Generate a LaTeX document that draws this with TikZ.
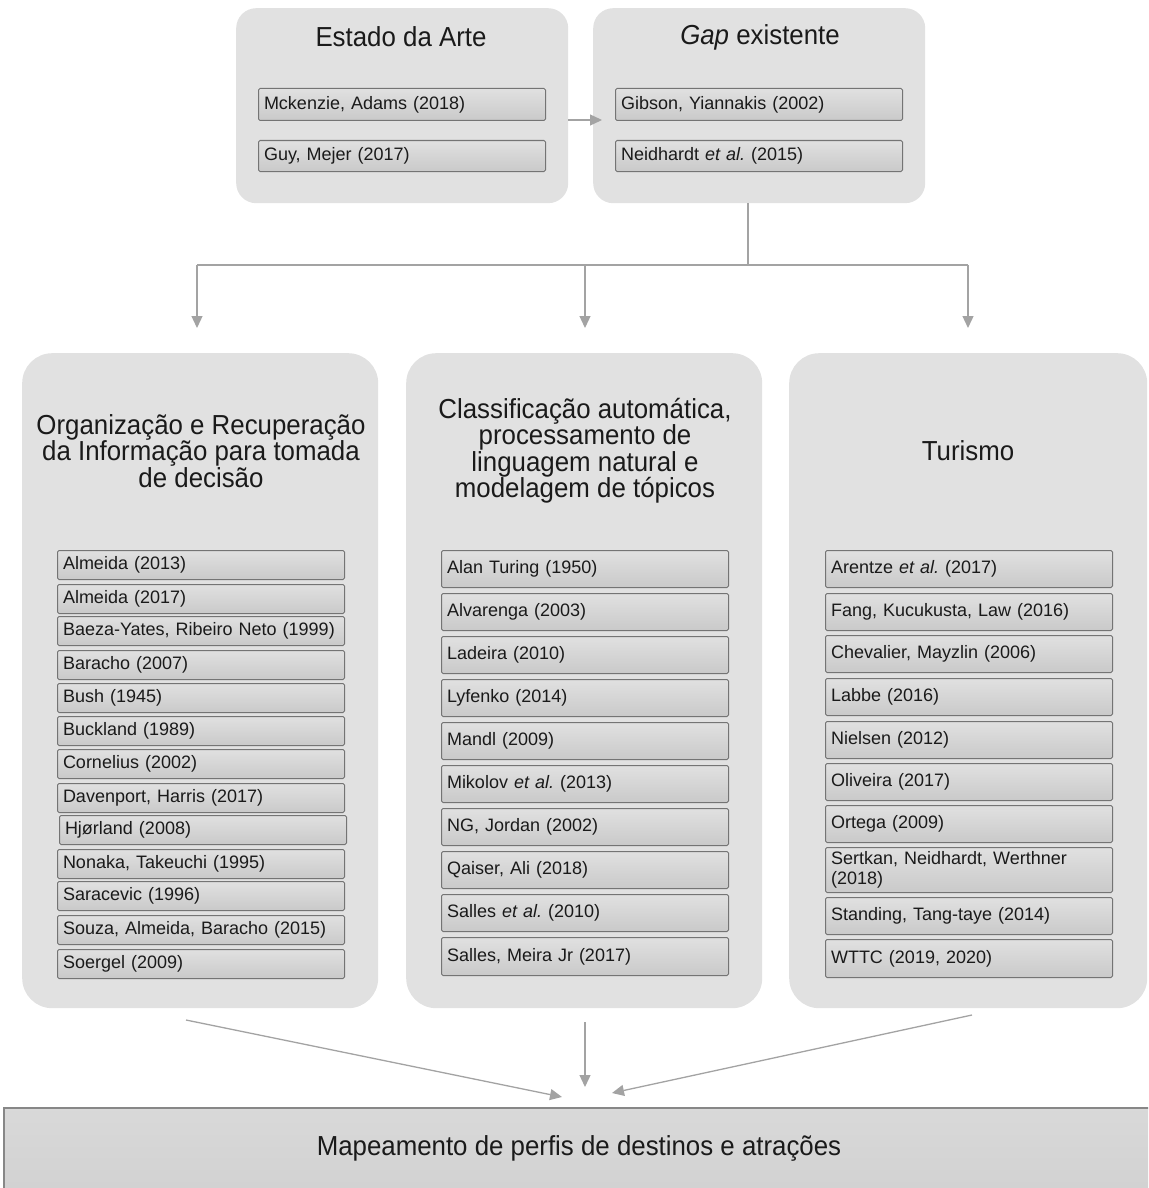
\documentclass[tikz,border=0pt]{standalone}
\usepackage{fontspec}
\setmainfont{Liberation Sans}
\newfontfamily\titlefont[FakeStretch=0.94]{Liberation Sans}
\usetikzlibrary{arrows.meta,calc}
\definecolor{panel}{HTML}{E1E1E1}
\definecolor{edge}{HTML}{747474}
\definecolor{arrowgray}{HTML}{A3A3A3}
\definecolor{txt}{HTML}{1A1A1A}
\newcommand{\etal}{{\itshape et al.}}
\frenchspacing
\begin{document}
\begin{tikzpicture}[x=1pt,y=-1pt,
  panelbox/.style={fill=panel, rounded corners=30pt, draw=none, inner sep=0pt, anchor=north west},
  topbox/.style={fill=panel, rounded corners=20pt, draw=none, inner sep=0pt, anchor=north west},
  refbox/.style={draw=edge, line width=1pt, rounded corners=1.5pt, top color=black!12, bottom color=black!21,
    anchor=north west, inner xsep=5.5pt, inner ysep=0pt, text width=276pt, align=left,
    font=\fontsize{18}{20}\selectfont\frenchspacing, text=txt},
  lref/.style={refbox, minimum height=29pt},
  mref/.style={refbox, minimum height=37pt},
  tref/.style={refbox, minimum height=32pt},
  bigtitle/.style={font=\titlefont\fontsize{27.5}{26.5}\selectfont, text=txt, align=center},
  arr/.style={draw=arrowgray, line width=1.3pt, -{Triangle[length=12pt,width=11pt]}},
  ln/.style={draw=arrowgray, line width=1.3pt},
]
\useasboundingbox (0,0) rectangle (1148,1188);
\clip (0,0) rectangle (1148,1188);

% ---------- top boxes ----------
\node[topbox, minimum width=332pt, minimum height=195pt] (estado) at (236,8) {};
\node[topbox, minimum width=332pt, minimum height=195pt] (gap) at (593,8) {};
\node[bigtitle] (estadoT) at (401,37) {Estado da Arte};
\node[bigtitle] (gapT) at (760,37) {{\itshape Gap} existente};
\node[tref] (mck) at (258,88) {Mckenzie, Adams (2018)};
\node[tref, minimum height=31pt] (guy) at (258,140) {Guy, Mejer (2017)};
\node[tref] (gib) at (615,88) {Gibson, Yiannakis (2002)};
\node[tref, minimum height=31pt] (nei) at (615,140) {Neidhardt \etal{} (2015)};

% ---------- column panels ----------
\node[panelbox, minimum width=356pt, minimum height=655pt] (left) at (22,353) {};
\node[panelbox, minimum width=356pt, minimum height=655pt] (mid) at (406,353) {};
\node[panelbox, minimum width=358pt, minimum height=655pt] (right) at (789,353) {};

\node[bigtitle] (leftT) at (201,451) {Organização e Recuperação\\da Informação para tomada\\de decisão};
\node[bigtitle] (midT) at (585,450.5) {Classificação automática,\\processamento de\\linguagem natural e\\modelagem de tópicos};
\node[bigtitle] (rightT) at (968,451) {Turismo};

% left column
\node[lref] (l1) at (57,550) {Almeida (2013)};
\node[lref] (l2) at (57,584) {Almeida (2017)};
\node[lref] (l3) at (57,616) {Baeza-Yates, Ribeiro Neto (1999)};
\node[lref] (l4) at (57,650) {Baracho (2007)};
\node[lref] (l5) at (57,683) {Bush (1945)};
\node[lref] (l6) at (57,716) {Buckland (1989)};
\node[lref] (l7) at (57,749) {Cornelius (2002)};
\node[lref] (l8) at (57,783) {Davenport, Harris (2017)};
\node[lref] (l9) at (59,815) {Hjørland (2008)};
\node[lref] (l10) at (57,849) {Nonaka, Takeuchi (1995)};
\node[lref] (l11) at (57,881) {Saracevic (1996)};
\node[lref] (l12) at (57,915) {Souza, Almeida, Baracho (2015)};
\node[lref] (l13) at (57,949) {Soergel (2009)};

% middle column
\node[mref] (m1) at (441,550) {Alan Turing (1950)};
\node[mref] (m2) at (441,593) {Alvarenga (2003)};
\node[mref] (m3) at (441,636) {Ladeira (2010)};
\node[mref] (m4) at (441,679) {Lyfenko (2014)};
\node[mref] (m5) at (441,722) {Mandl (2009)};
\node[mref] (m6) at (441,765) {Mikolov \etal{} (2013)};
\node[mref] (m7) at (441,808) {NG, Jordan (2002)};
\node[mref] (m8) at (441,851) {Qaiser, Ali (2018)};
\node[mref] (m9) at (441,894) {Salles \etal{} (2010)};
\node[mref, minimum height=38pt] (m10) at (441,937) {Salles, Meira Jr (2017)};

% right column
\node[mref] (r1) at (825,550) {Arentze \etal{} (2017)};
\node[mref] (r2) at (825,593) {Fang, Kucukusta, Law (2016)};
\node[mref] (r3) at (825,635) {Chevalier, Mayzlin (2006)};
\node[mref] (r4) at (825,678) {Labbe (2016)};
\node[mref] (r5) at (825,721) {Nielsen (2012)};
\node[mref] (r6) at (825,763) {Oliveira (2017)};
\node[mref] (r7) at (825,805) {Ortega (2009)};
\node[mref, minimum height=45pt] (r8) at (825,847) {Sertkan, Neidhardt, Werthner\\(2018)};
\node[mref] (r9) at (825,897) {Standing, Tang-taye (2014)};
\node[mref, minimum height=38pt] (r10) at (825,939) {WTTC (2019, 2020)};

% ---------- final box ----------
\node[draw=black!47, line width=1.6pt, top color=black!15, bottom color=black!20, inner sep=0pt,
  anchor=north west, minimum width=1220pt, minimum height=150pt] (final) at (3,1107) {};
\node[font=\titlefont\fontsize{27.5}{28}\selectfont, text=txt] (finalT) at (579,1148) {Mapeamento de perfis de destinos e atrações};

% ---------- connectors ----------
\coordinate (ea) at (568,120);
\coordinate (eb) at (602,120);
\draw[arr] (ea) -- (eb);

\coordinate (gdown) at (748,203);
\coordinate (junc) at (748,265);
\coordinate (hl) at (197,265);
\coordinate (hr) at (968,265);
\coordinate (hm) at (585,265);
\draw[ln] (gdown) -- (junc);
\draw[ln] (hl) -- (hr);
\coordinate (tl) at (197,328);
\coordinate (tm) at (585,328);
\coordinate (tr) at (968,328);
\draw[arr] (hl) -- (tl);
\draw[arr] (hm) -- (tm);
\draw[arr] (hr) -- (tr);

\coordinate (bl0) at (186,1020);
\coordinate (bl1) at (562,1097);
\coordinate (bm0) at (585,1022);
\coordinate (bm1) at (585,1087);
\coordinate (br0) at (972,1015);
\coordinate (br1) at (612,1093);
\draw[arr] (bl0) -- (bl1);
\draw[arr] (bm0) -- (bm1);
\draw[arr] (br0) -- (br1);
\end{tikzpicture}
\end{document}
